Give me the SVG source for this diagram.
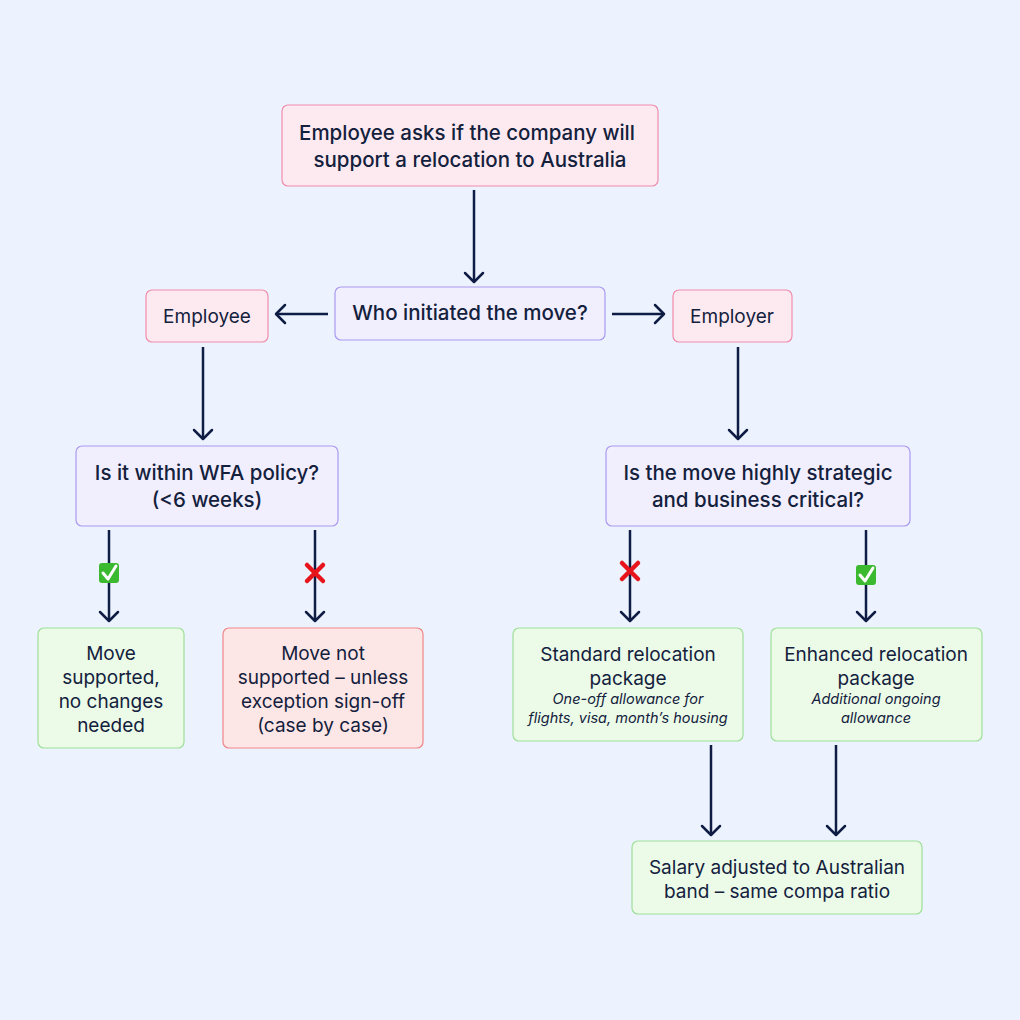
<svg xmlns="http://www.w3.org/2000/svg" width="1020" height="1020" viewBox="0 0 1020 1020">
<style>
.t{font-family:Inter,"Liberation Sans",sans-serif;font-size:20.5px;font-weight:500;fill:#14213d;text-anchor:middle}
.b{font-size:19px;font-weight:400}
.s{font-family:Inter,"Liberation Sans",sans-serif;font-size:14.5px;font-style:italic;fill:#14213d;text-anchor:middle}
.pk{fill:#fdeaf0;stroke:#f08cab;stroke-width:1.2}
.lv{fill:#f1eefd;stroke:#a99af0;stroke-width:1.2}
.gr{fill:#ebfbe8;stroke:#9edf98;stroke-width:1.2}
.rd{fill:#fde6e6;stroke:#ef8585;stroke-width:1.2}
.c line{stroke:#0f1d45;stroke-width:2.5}
.c path{fill:none;stroke:#0f1d45;stroke-width:2.5;stroke-linecap:round;stroke-linejoin:round}
</style>
<rect width="1020" height="1020" fill="#ecf3fe"/>
<g id="n-start"><rect class="pk" x="282" y="105" width="376" height="81" rx="6"/><text class="t" x="467" y="140">Employee asks if the company will</text><text class="t" x="470" y="167">support a relocation to Australia</text></g>
<g id="n-who"><rect class="lv" x="335" y="287" width="270" height="53" rx="6"/><text class="t" x="470" y="320">Who initiated the move?</text></g>
<g id="n-employee"><rect class="pk" x="146" y="290" width="122" height="52" rx="6"/><text class="t b" x="207" y="323">Employee</text></g>
<g id="n-employer"><rect class="pk" x="673" y="290" width="119" height="52" rx="6"/><text class="t b" x="732" y="323">Employer</text></g>
<g id="n-wfa"><rect class="lv" x="76" y="446" width="262" height="80" rx="6"/><text class="t" x="207" y="480">Is it within WFA policy?</text><text class="t" x="207" y="507">(&lt;6 weeks)</text></g>
<g id="n-strat"><rect class="lv" x="606" y="446" width="304" height="80" rx="6"/><text class="t" x="758" y="480">Is the move highly strategic</text><text class="t" x="758" y="507">and business critical?</text></g>
<g id="n-supported"><rect class="gr" x="38" y="628" width="146" height="120" rx="6"/><text class="t b" x="111" y="660">Move</text><text class="t b" x="111" y="684">supported,</text><text class="t b" x="111" y="708">no changes</text><text class="t b" x="111" y="732">needed</text></g>
<g id="n-notsupported"><rect class="rd" x="223" y="628" width="200" height="120" rx="6"/><text class="t b" x="323" y="660">Move not</text><text class="t b" x="323" y="684">supported – unless</text><text class="t b" x="323" y="708">exception sign-off</text><text class="t b" x="323" y="732">(case by case)</text></g>
<g id="n-standard"><rect class="gr" x="513" y="628" width="230" height="113" rx="6"/><text class="t b" x="628" y="661">Standard relocation</text><text class="t b" x="628" y="685">package</text><text class="s" x="628" y="704">One-off allowance for</text><text class="s" x="628" y="723">flights, visa, month’s housing</text></g>
<g id="n-enhanced"><rect class="gr" x="771" y="628" width="211" height="113" rx="6"/><text class="t b" x="876" y="661">Enhanced relocation</text><text class="t b" x="876" y="685">package</text><text class="s" x="876" y="704">Additional ongoing</text><text class="s" x="876" y="723">allowance</text></g>
<g id="n-salary"><rect class="gr" x="632" y="841" width="290" height="73" rx="6"/><text class="t b" x="777" y="874">Salary adjusted to Australian</text><text class="t b" x="777" y="898">band – same compa ratio</text></g>
<g id="connectors" class="c">
<line x1="474" y1="190" x2="474" y2="282"/><path d="M465 273 L474 282 L483 273"/>
<line x1="328" y1="314" x2="276" y2="314"/><path d="M285 305 L276 314 L285 323"/>
<line x1="612" y1="314" x2="664" y2="314"/><path d="M655 305 L664 314 L655 323"/>
<line x1="203" y1="347" x2="203" y2="439"/><path d="M194 430 L203 439 L212 430"/>
<line x1="738" y1="347" x2="738" y2="439"/><path d="M729 430 L738 439 L747 430"/>
<line x1="109" y1="530" x2="109" y2="621"/><path d="M100 612 L109 621 L118 612"/>
<line x1="315" y1="530" x2="315" y2="621"/><path d="M306 612 L315 621 L324 612"/>
<line x1="630" y1="530" x2="630" y2="621"/><path d="M621 612 L630 621 L639 612"/>
<line x1="866" y1="530" x2="866" y2="621"/><path d="M857 612 L866 621 L875 612"/>
<line x1="711" y1="745" x2="711" y2="835"/><path d="M702 826 L711 835 L720 826"/>
<line x1="836" y1="745" x2="836" y2="835"/><path d="M827 826 L836 835 L845 826"/>
</g>
<g id="icons">
<rect x="99" y="563" width="20" height="20" rx="3" fill="#3cba2f"/><path d="M103 573 L108 579 L116 566" fill="none" stroke="#fff" stroke-width="3" stroke-linecap="round" stroke-linejoin="round"/>
<rect x="856" y="565" width="20" height="20" rx="3" fill="#3cba2f"/><path d="M860 575 L865 581 L873 568" fill="none" stroke="#fff" stroke-width="3" stroke-linecap="round" stroke-linejoin="round"/>
<path d="M307 565 L323 581 M323 565 L307 581" stroke="#e8141c" stroke-width="4.5" stroke-linecap="round"/>
<path d="M622 563 L638 579 M638 563 L622 579" stroke="#e8141c" stroke-width="4.5" stroke-linecap="round"/>
</g>
</svg>
